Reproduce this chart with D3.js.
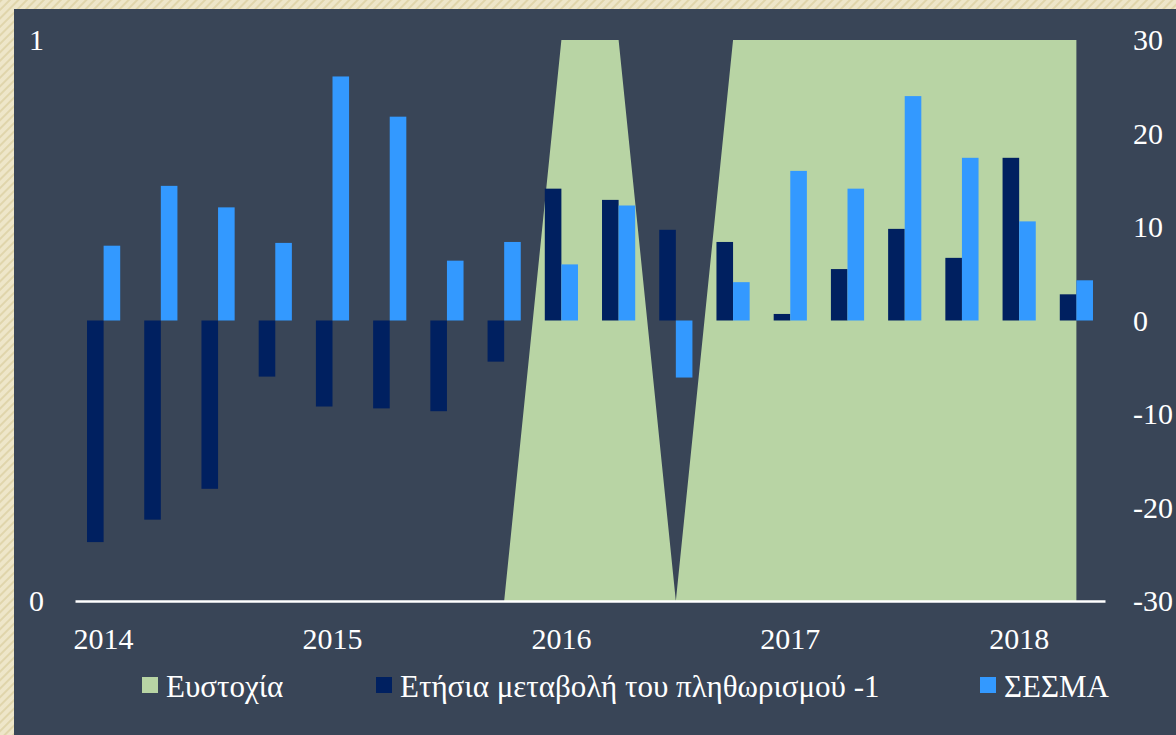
<!DOCTYPE html>
<html>
<head>
<meta charset="utf-8">
<script src="https://cdn.jsdelivr.net/npm/d3@7"></script>
<style>
  html, body { margin: 0; padding: 0; }
  body { width: 1176px; height: 735px; overflow: hidden; }
</style>
</head>
<body>
<svg id="viewport" width="1176" height="735"></svg>
<script>
// quarters 2014Q1 .. 2018Q2
const quarters = [
  '2014Q1', '2014Q2', '2014Q3', '2014Q4',
  '2015Q1', '2015Q2', '2015Q3', '2015Q4',
  '2016Q1', '2016Q2', '2016Q3', '2016Q4',
  '2017Q1', '2017Q2', '2017Q3', '2017Q4',
  '2018Q1', '2018Q2',
];
// hit (1) or miss (0), left axis
const accuracy = [0, 0, 0, 0, 0, 0, 0, 0, 1, 1, 0, 1, 1, 1, 1, 1, 1, 1];
// annual change of inflation, lagged one period
const inflation = [-23.7, -21.3, -18.0, -6.0, -9.2, -9.4, -9.7, -4.4, 14.1, 12.9, 9.7, 8.4, 0.7, 5.5, 9.8, 6.7, 17.4, 2.8];
// economic sentiment indicator
const sesma = [8.0, 14.4, 12.1, 8.3, 26.1, 21.8, 6.4, 8.4, 6.0, 12.3, -6.1, 4.1, 16.0, 14.1, 24.0, 17.4, 10.6, 4.3];

const rightTicks = [-30, -20, -10, 0, 10, 20, 30];
const leftTicks = [0, 1];
const legendItems = [
  { name: 'Ευστοχία', colour: '#b8d4a4' },
  { name: 'Ετήσια μεταβολή του πληθωρισμού -1', colour: '#002060' },
  { name: 'ΣΕΣΜΑ', colour: '#3399ff' },
];

const colours = {
  panel: '#394557',
  area: '#b8d4a4',
  inflation: '#002060',
  sesma: '#3399ff',
};
const fontFamily = '"Liberation Serif", "DejaVu Serif", serif';

const svg = d3.select('#viewport');

// beige textured frame
const defs = svg.append('defs');
const pat = defs.append('pattern')
  .attr('id', 'stripes')
  .attr('width', 6)
  .attr('height', 6)
  .attr('patternUnits', 'userSpaceOnUse')
  .attr('patternTransform', 'rotate(45)');
pat.append('rect').attr('width', 6).attr('height', 6).attr('fill', '#eee6c9');
pat.append('rect').attr('width', 2).attr('height', 6).attr('fill', '#e0d5ab');

svg.append('rect').attr('width', 1176).attr('height', 735).attr('fill', 'url(#stripes)');
svg.append('rect')
  .attr('x', 14).attr('y', 9)
  .attr('width', 1176 - 14).attr('height', 735 - 9)
  .attr('fill', colours.panel);

const plot = { left: 75, right: 1105, top: 40, bottom: 601 };

const x = d3.scaleBand()
  .domain(quarters)
  .range([plot.left, plot.right])
  .padding(0);
const cx = (d) => x(d) + x.bandwidth() / 2;
const barW = x.bandwidth() * 0.29;

const yLeft = d3.scaleLinear().domain([0, 1]).range([plot.bottom, plot.top]);
const yRight = d3.scaleLinear().domain([-30, 30]).range([plot.bottom, plot.top]);

// area series
const area = d3.area()
  .x((d, i) => cx(quarters[i]))
  .y0(yLeft(0))
  .y1((d) => yLeft(d));
svg.append('path')
  .datum(accuracy)
  .attr('d', area)
  .attr('fill', colours.area);

// bars
const bars = svg.append('g');
bars.selectAll('rect.inflation')
  .data(inflation)
  .join('rect')
  .attr('class', 'inflation')
  .attr('x', (d, i) => cx(quarters[i]) - barW)
  .attr('width', barW)
  .attr('y', (d) => yRight(Math.max(0, d)))
  .attr('height', (d) => Math.abs(yRight(d) - yRight(0)))
  .attr('fill', colours.inflation);
bars.selectAll('rect.sesma')
  .data(sesma)
  .join('rect')
  .attr('class', 'sesma')
  .attr('x', (d, i) => cx(quarters[i]))
  .attr('width', barW)
  .attr('y', (d) => yRight(Math.max(0, d)))
  .attr('height', (d) => Math.abs(yRight(d) - yRight(0)))
  .attr('fill', colours.sesma);

// bottom axis line and year labels
const xAxis = d3.axisBottom(x)
  .tickSize(0)
  .tickPadding(27)
  .tickFormat((d) => (d.endsWith('Q1') ? d.slice(0, 4) : ''));
const gx = svg.append('g')
  .attr('transform', `translate(0,${plot.bottom})`)
  .call(xAxis)
  .attr('font-family', null)
  .attr('font-size', null);
gx.select('.domain').attr('stroke', '#ffffff').attr('stroke-width', 2.5);

// left axis (0..1)
const gl = svg.append('g')
  .attr('transform', `translate(${plot.left},0)`)
  .call(d3.axisLeft(yLeft).tickValues(leftTicks).tickSize(0).tickPadding(31).tickFormat((d) => String(d)))
  .attr('font-family', null)
  .attr('font-size', null);
gl.select('.domain').remove();

// right axis (-30..30)
const gr = svg.append('g')
  .attr('transform', `translate(${plot.right},0)`)
  .call(d3.axisRight(yRight).tickValues(rightTicks).tickSize(0).tickPadding(28).tickFormat((d) => String(d)))
  .attr('font-family', null)
  .attr('font-size', null);
gr.select('.domain').remove();

svg.selectAll('g.tick text')
  .style('font-family', fontFamily)
  .style('font-size', '30px')
  .attr('fill', '#ffffff');

// legend
const legendX = [142, 376, 980];
const legend = svg.append('g').attr('class', 'legend');
legend.selectAll('g.item')
  .data(legendItems)
  .join('g')
  .attr('class', 'item')
  .each((d, i, n) => {
    const item = d3.select(n[i])
      .attr('transform', `translate(${legendX[i]},697)`);
    item.append('rect')
      .attr('x', 0).attr('y', -20)
      .attr('width', 16).attr('height', 16)
      .attr('fill', d.colour);
    item.append('text')
      .attr('x', 24).attr('y', 0)
      .style('font-family', fontFamily)
      .style('font-size', '31px')
      .attr('fill', '#ffffff')
      .text(d.name);
  });
</script>
</body>
</html>
